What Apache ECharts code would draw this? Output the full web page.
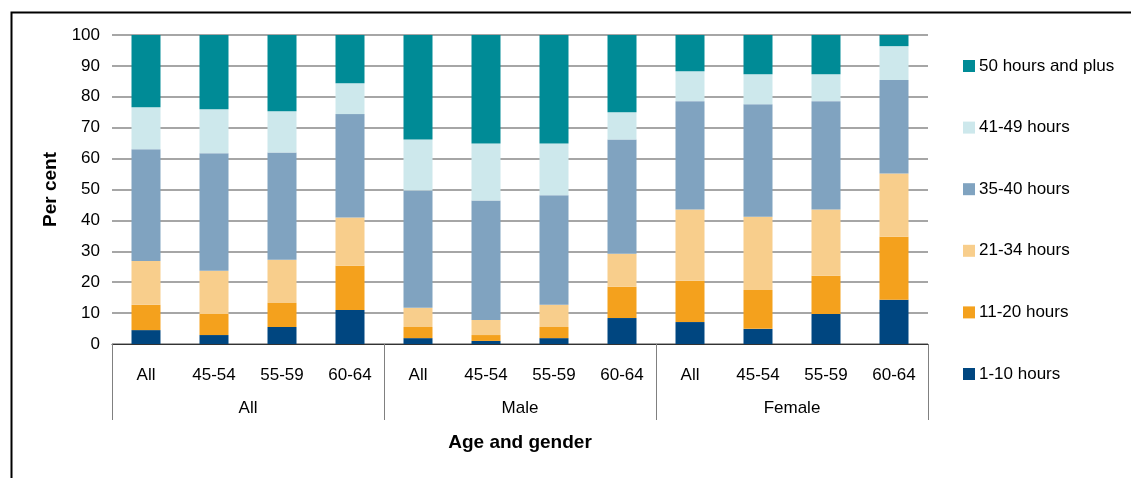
<!DOCTYPE html>
<html>
<head>
<meta charset="utf-8">
<script src="https://cdn.jsdelivr.net/npm/echarts@6/dist/echarts.min.js"></script>
<style>
html,body{margin:0;padding:0;background:#fff;}
#c{width:1131px;height:478px;}
</style>
</head>
<body>
<div id="c"></div>
<script>
const ageLabels = ['All','45-54','55-59','60-64','All','45-54','55-59','60-64','All','45-54','55-59','60-64'];
const groupLabels = ['All','Male','Female'];
const yTicks = [0,10,20,30,40,50,60,70,80,90,100];

const h1_10   = [4.5, 2.9, 5.5, 11.0, 1.9, 1.0, 1.9, 8.4, 7.1, 4.9, 9.7, 14.3];
const h11_20  = [8.2, 6.8, 7.8, 14.3, 3.6, 1.9, 3.6, 10.1, 13.4, 12.6, 12.4, 20.4];
const h21_34  = [14.2, 14.0, 14.0, 15.6, 6.2, 4.9, 7.2, 10.7, 23.0, 23.7, 21.4, 20.5];
const h35_40  = [36.1, 38.0, 34.7, 33.5, 38.0, 38.6, 35.4, 37.0, 35.1, 36.4, 35.1, 30.2];
const h41_49  = [13.6, 14.3, 13.3, 10.0, 16.5, 18.5, 16.8, 8.8, 9.7, 9.7, 8.7, 11.0];
const h50plus = [23.4, 24.0, 24.7, 15.6, 33.8, 35.1, 35.1, 25.0, 11.7, 12.7, 12.7, 3.6];

const seriesNames = ['1-10 hours','11-20 hours','21-34 hours','35-40 hours','41-49 hours','50 hours and plus'];
const seriesData = [h1_10, h11_20, h21_34, h35_40, h41_49, h50plus];
const colors = ['#004680','#F4A11D','#F8CE8C','#80A3C0','#CDE8EC','#008B96'];

const FONT = 'Liberation Sans, Arial, sans-serif';
const chart = echarts.init(document.getElementById('c'));
chart.setOption({
  animation: false,
  textStyle: {fontFamily: FONT},
  graphic: [{
    type: 'rect', left: 9, top: 10,
    shape: {x: 0, y: 0, width: 1200, height: 600},
    style: {fill: 'none', stroke: '#000', lineWidth: 2},
    silent: true, z: -1
  }],
  grid: {left: 112, right: 203, top: 35, bottom: 134, containLabel: false},
  legend: {
    orient: 'vertical', left: 963, top: 56, padding: 0,
    itemWidth: 12, itemHeight: 12, itemGap: 41.6,
    icon: 'rect',
    data: seriesNames.slice().reverse(),
    textStyle: {fontSize: 17, lineHeight: 20, color: '#000', fontFamily: FONT, padding: [0,0,0,-1]}
  },
  xAxis: [{
    type: 'category', data: ageLabels, position: 'bottom',
    axisLine: {show: true, lineStyle: {color: '#333', width: 1}},
    axisTick: {show: false},
    axisLabel: {interval: 0, margin: 23, fontSize: 17, color: '#000', fontFamily: FONT},
    name: 'Age and gender', nameLocation: 'middle', nameGap: 89,
    nameTextStyle: {fontSize: 19, fontWeight: 'bold', color: '#000', fontFamily: FONT}
  }, {
    type: 'category', data: groupLabels, position: 'bottom',
    axisLine: {show: false},
    axisTick: {show: true, length: 76, inside: false, interval: 0, lineStyle: {color: '#808080'}},
    axisLabel: {interval: 0, margin: 56, fontSize: 17, color: '#000', fontFamily: FONT},
    splitLine: {show: false}
  }],
  yAxis: {
    type: 'value', min: 0, max: 100, interval: 10,
    axisLine: {show: false}, axisTick: {show: false},
    axisLabel: {fontSize: 17, color: '#000', margin: 12, fontFamily: FONT,
      formatter: v => yTicks.includes(v) ? String(v) : ''},
    splitLine: {show: true, lineStyle: {color: '#888', width: 1.5}},
    name: 'Per cent', nameLocation: 'middle', nameGap: 52, nameRotate: 90,
    nameTextStyle: {fontSize: 19, fontWeight: 'bold', color: '#000', fontFamily: FONT}
  },
  series: seriesNames.map((n, i) => ({
    name: n, type: 'bar', stack: 'total', xAxisIndex: 0,
    barWidth: 29, data: seriesData[i],
    itemStyle: {color: colors[i]}
  }))
});
</script>
</body>
</html>
